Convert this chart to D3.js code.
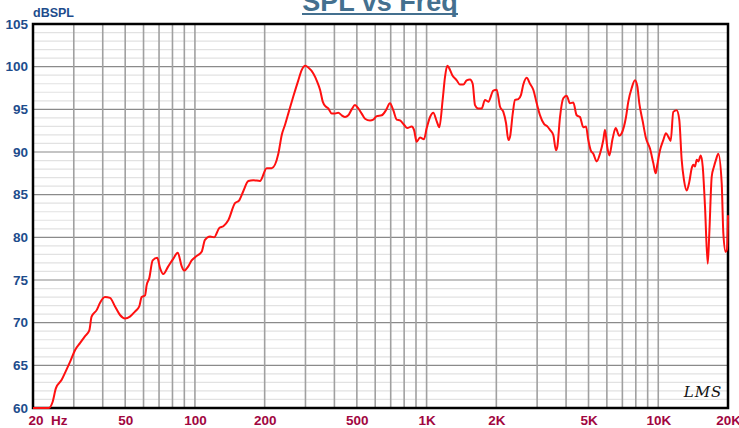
<!DOCTYPE html>
<html>
<head>
<meta charset="utf-8">
<script src="https://cdn.jsdelivr.net/npm/d3@7"></script>
<style>
  body { margin: 0; background: #fff; }
  svg { display: block; font-family: "Liberation Sans", Arial, sans-serif; }
</style>
</head>
<body>
<div id="chart"></div>
<script>
// ===========================================================
// DATA  (frequency in Hz, level in dB SPL)
// ===========================================================
var freqs = [20, 23.4, 24.3, 25.1, 26.6, 27.8, 28.9, 30.4, 31.9, 33.5, 35.0, 35.8, 37.7, 38.9, 40.9,
  43.0, 45.2, 47.5, 49.9, 52.4, 55.1, 57.5, 58.9, 60.9, 61.9, 63.5, 65.7, 68.8, 70.7, 73.0, 76.7,
  80.7, 84.3, 87.7, 89.7, 93.6, 96.8, 101.7, 106.9, 110.5, 116.2, 120.9, 127.4, 132.6, 139.3,
  148.9, 155.0, 161.7, 170.0, 178.6, 190.9, 204.1, 214.4, 229.1, 237.0, 244.9, 252.9, 265.8,
  279.4, 288.9, 299.5, 308.6, 324.4, 337.6, 346.8, 356.2, 368.0, 376.6, 389.4, 402.4, 415.8,
  430.1, 444.5, 459.2, 475.0, 490.8, 507.1, 524.6, 542.2, 569.9, 588.8, 609.0, 640.1, 668.0,
  695.0, 718.1, 743.0, 767.7, 798.9, 825.5, 862.4, 882.4, 906.2, 936.4, 974.4, 1001, 1035, 1069,
  1106, 1135, 1173, 1201, 1228, 1253, 1291, 1349, 1393, 1440, 1489, 1539, 1581, 1618, 1672, 1729,
  1787, 1847, 1941, 2007, 2075, 2144, 2202, 2253, 2292, 2354, 2409, 2488, 2556, 2615, 2704, 2795,
  2888, 2988, 3088, 3212, 3319, 3409, 3523, 3619, 3666, 3766, 3891, 4023, 4158, 4297, 4445, 4593,
  4746, 4876, 4989, 5110, 5243, 5424, 5604, 5791, 5888, 6024, 6146, 6357, 6550, 6788, 6952, 7257,
  7425, 7680, 7935, 8120, 8284, 8568, 8851, 9210, 9519, 9750, 9906, 10174, 10514, 10798, 11048,
  11314, 11610, 12008, 12322, 12620, 12914, 13266, 13614, 13944, 14168, 14408, 14656, 14890,
  15248, 15556, 15914, 16348, 16610, 17010, 17406, 17754, 18164, 18790, 19092, 19544, 19800, 20000];

var spl = [60.0, 60.0, 60.7, 62.3, 63.3, 64.4, 65.4, 66.8, 67.6, 68.4, 69.1, 70.7, 71.5, 72.3, 73.0,
  72.9, 71.9, 70.9, 70.5, 70.7, 71.3, 71.9, 73.0, 73.2, 74.4, 75.2, 77.3, 77.6, 76.4, 75.7, 76.6,
  77.5, 78.2, 76.6, 76.1, 76.6, 77.3, 77.8, 78.3, 79.7, 80.1, 80.0, 81.1, 81.3, 82.0,
  84.0, 84.3, 85.4, 86.6, 86.7, 86.6, 88.1, 88.1, 89.8, 92.0, 93.2, 94.5, 96.5,
  98.4, 99.6, 100.1, 99.9, 99.2, 98.2, 97.3, 95.9, 95.3, 95.1, 94.5, 94.5, 94.6,
  94.3, 94.1, 94.3, 95.0, 95.5, 95.1, 94.5, 93.9, 93.7, 93.8, 94.2, 94.3, 94.9,
  95.7, 94.9, 93.8, 93.7, 93.2, 92.8, 93.0, 92.6, 91.2, 91.7, 91.5, 92.8, 94.1, 94.6,
  93.6, 92.9, 96.1, 98.8, 100.1, 99.8, 99.0, 98.4, 97.9, 97.9, 98.4, 98.5, 98.0, 95.5, 95.1, 95.1,
  96.1, 95.9, 97.2, 97.3, 95.3, 94.7, 93.4, 91.4, 91.8, 94.5, 96.1, 96.2, 96.7, 97.9, 98.7, 98.0,
  97.3, 95.7, 94.3, 93.3, 93.0, 92.6, 92.0, 90.2, 90.6, 94.1, 96.3, 96.6, 95.7, 95.8, 94.3, 94.1,
  92.9, 93.0, 91.4, 90.2, 89.8, 88.9, 89.8, 91.4, 92.6, 90.6, 89.6, 91.6, 92.8, 91.9, 92.2, 94.1,
  95.9, 97.5, 98.4, 97.7, 95.7, 93.6, 91.6, 90.4, 88.7, 87.5, 88.5, 90.2, 91.4, 92.2, 91.8,
  91.3, 94.7, 94.9, 93.8, 89.1, 86.7, 85.5, 86.5, 88.1, 88.5, 88.3, 89.1, 88.9,
  89.6, 88.3, 83.6, 76.9, 80.5, 87.1, 88.3, 89.1, 89.8, 86.3, 80.5, 78.3, 78.6, 82.6];

var xTicks = [20, 50, 100, 200, 500, 1000, 2000, 5000, 10000, 20000];
var xTickLabels = ["20  Hz", "50", "100", "200", "500", "1K", "2K", "5K", "10K", "20K"];
var xGrid = [30, 40, 50, 60, 70, 80, 90, 100, 200, 300, 400, 500, 600, 700, 800, 900,
  1000, 2000, 3000, 4000, 5000, 6000, 7000, 8000, 9000, 10000];
var yTicks = [60, 65, 70, 75, 80, 85, 90, 95, 100, 105];

// ===========================================================
// SET MARGINS
// ===========================================================
var svgWidth = 739;
var svgHeight = 428;
var margin = { top: 24, right: 11, bottom: 20, left: 33 };
var width = svgWidth - margin.left - margin.right;
var height = svgHeight - margin.top - margin.bottom;

var svg = d3.select('#chart')
  .append('svg')
  .attr('width', svgWidth)
  .attr('height', svgHeight);

var chartGroup = svg.append('g')
  .attr('transform', `translate(${margin.left}, ${margin.top})`);

// ===========================================================
// SCALES
// ===========================================================
var x = d3.scaleLog().domain([20, 20000]).range([0, width]);
var y = d3.scaleLinear().domain([60, 105]).range([height, 0]);

// ===========================================================
// GRID
// ===========================================================
// minor dB lines every 1 dB
chartGroup.append('g')
  .selectAll('line')
  .data(d3.range(61, 105).filter(d => d % 5 !== 0))
  .enter()
  .append('line')
  .attr('x1', 0).attr('x2', width)
  .attr('y1', d => y(d)).attr('y2', d => y(d))
  .attr('stroke', '#e2e2e2')
  .attr('stroke-width', 1.2);

chartGroup.append('g')
  .selectAll('line')
  .data(yTicks)
  .enter()
  .append('line')
  .attr('x1', 0).attr('x2', width)
  .attr('y1', d => y(d)).attr('y2', d => y(d))
  .attr('stroke', '#8a8a8a')
  .attr('stroke-width', 1.2);

chartGroup.append('g')
  .selectAll('line')
  .data(xGrid)
  .enter()
  .append('line')
  .attr('x1', d => x(d)).attr('x2', d => x(d))
  .attr('y1', 0).attr('y2', height)
  .attr('stroke', '#a0a0a0')
  .attr('stroke-width', 1.6);

// frame
chartGroup.append('rect')
  .attr('x', 0).attr('y', 0)
  .attr('width', width).attr('height', height)
  .attr('fill', 'none')
  .attr('stroke', '#000')
  .attr('stroke-width', 2.5);

// ===========================================================
// CURVE  (drawn over the frame, as in the original)
// ===========================================================
var points = freqs.map((f, i) => [f, spl[i]]);

chartGroup.append('path')
  .datum(points)
  .attr('fill', 'none')
  .attr('stroke', '#ff1010')
  .attr('stroke-width', 2)
  .attr('stroke-linejoin', 'round')
  .attr('d', d3.line()
    .x(d => x(d[0]))
    .y(d => y(d[1]))
    .curve(d3.curveMonotoneX));

// ===========================================================
// AXES
// ===========================================================
var yAxis = chartGroup.append('g')
  .call(d3.axisLeft(y).tickValues(yTicks).tickSize(0).tickPadding(5));
yAxis.select('.domain').remove();
yAxis.selectAll('text')
  .attr('fill', '#1d4c8c')
  .style('font-size', '13.5px')
  .style('font-weight', 'bold');

var xAxis = chartGroup.append('g')
  .attr('transform', `translate(0, ${height})`)
  .call(d3.axisBottom(x).tickValues(xTicks).tickSize(0).tickPadding(7)
    .tickFormat((d, i) => xTickLabels[i]));
xAxis.select('.domain').remove();
xAxis.selectAll('text')
  .attr('fill', '#a1063f')
  .style('font-size', '13.5px')
  .style('font-weight', 'bold')
  .style('white-space', 'pre');
xAxis.selectAll('text').filter((d, i) => i === 0)
  .attr('text-anchor', 'start')
  .attr('x', -5);

// ===========================================================
// TITLE & LABELS
// ===========================================================
svg.append('text')
  .attr('x', 380)
  .attr('y', 11)
  .attr('text-anchor', 'middle')
  .attr('fill', '#44708f')
  .style('font-size', '27px')
  .style('font-weight', 'bold')
  .text('SPL vs Freq');

svg.append('line')
  .attr('x1', 302).attr('x2', 458)
  .attr('y1', 14).attr('y2', 14)
  .attr('stroke', '#44708f')
  .attr('stroke-width', 2);

svg.append('text')
  .attr('x', 33)
  .attr('y', 17)
  .attr('fill', '#1d4c8c')
  .style('font-size', '12.5px')
  .style('font-weight', 'bold')
  .text('dBSPL');

svg.append('text')
  .attr('x', 703)
  .attr('y', 397)
  .attr('text-anchor', 'middle')
  .attr('fill', '#111')
  .style('font-family', '"DejaVu Serif", serif')
  .style('font-style', 'italic')
  .style('font-size', '15px')
  .style('letter-spacing', '1px')
  .text('LMS');
</script>
</body>
</html>
